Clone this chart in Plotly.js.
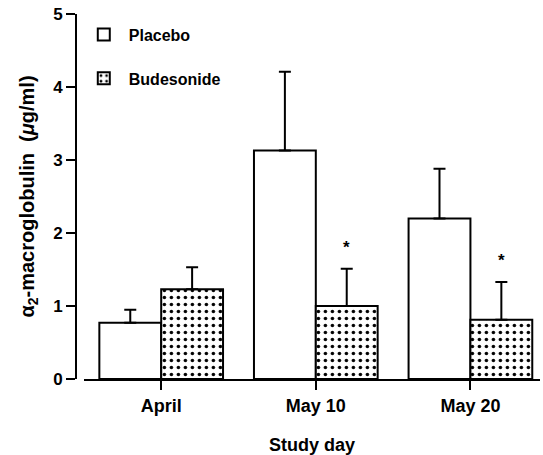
<!DOCTYPE html>
<html>
<head>
<meta charset="utf-8">
<script src="https://cdn.plot.ly/plotly-3.0.1.min.js"></script>
<style>html,body{margin:0;padding:0;background:#fff;}</style>
</head>
<body>
<div id="chart" style="width:543px;height:455px;"></div>
<script>
var categories = ["April", "May 10", "May 20"];
var placebo = [0.77, 3.13, 2.20];
var placeboErr = [0.18, 1.08, 0.68];
var budesonide = [1.23, 1.00, 0.81];
var budesonideErr = [0.30, 0.51, 0.52];
var significant = [false, true, true];
var yTicks = [0, 1, 2, 3, 4, 5];

var FONT = "Liberation Sans, Arial, Helvetica, sans-serif";
var zeros = categories.map(function(){return 0;});

var tracePlacebo = {
  type: "bar", name: "Placebo", x: categories, y: placebo,
  legendgroup: "p",
  marker: {color: "#ffffff", line: {color: "#000", width: 2}},
  error_y: {type: "data", symmetric: false, array: placeboErr, arrayminus: zeros,
            color: "#000", thickness: 2, width: 6}
};
var traceBud = {
  type: "bar", name: "Budesonide", x: categories, y: budesonide,
  legendgroup: "b",
  marker: {color: "#ffffff", line: {color: "#000", width: 2},
           pattern: {shape: ".", fgcolor: "#000", bgcolor: "#fff", size: 7, solidity: 0.2}},
  error_y: {type: "data", symmetric: false, array: budesonideErr, arrayminus: zeros,
            color: "#000", thickness: 2, width: 6}
};

var annotations = [];
categories.forEach(function(c, i){
  if (significant[i]) {
    annotations.push({
      x: c, y: budesonide[i] + budesonideErr[i], xref: "x", yref: "y",
      text: "*", showarrow: false, xshift: 31, yshift: 21,
      font: {family: FONT, size: 17, color: "#000", weight: "bold"}
    });
  }
});

var layout = {
  width: 543, height: 455,
  margin: {l: 76, r: 3, t: 14, b: 76},
  paper_bgcolor: "#fff", plot_bgcolor: "#fff",
  font: {family: FONT, color: "#000"},
  barmode: "group", bargap: 0.2, bargroupgap: 0,
  showlegend: true,
  legend: {x: 0.006, y: 0.99, xanchor: "left", yanchor: "top",
           font: {family: FONT, size: 16, weight: "bold", color: "#000"},
           itemwidth: 40,
           traceorder: "grouped", tracegroupgap: 20, bgcolor: "rgba(0,0,0,0)"},
  xaxis: {
    domain: [0.017, 1], range: [-0.5, 2.45],
    showline: true, linecolor: "#000", linewidth: 2,
    ticks: "outside", ticklen: 9, tickwidth: 2, tickcolor: "#000",
    showgrid: false, zeroline: false,
    tickfont: {family: FONT, size: 18, weight: "bold"},
    title: {text: "Study day", font: {family: FONT, size: 18, weight: "bold"}, standoff: 24}
  },
  yaxis: {
    anchor: "free", position: 0, range: [0, 5],
    tickvals: yTicks, ticktext: yTicks.map(String),
    showline: true, linecolor: "#000", linewidth: 2,
    ticks: "outside", ticklen: 9, tickwidth: 2, tickcolor: "#000",
    showgrid: false, zeroline: false,
    tickfont: {family: FONT, size: 17, weight: "bold"},
    title: {text: "α<sub>2</sub>-macroglobulin\u00a0\u00a0(<i>μ</i>g/ml)",
            font: {family: FONT, size: 20, weight: "bold"}, standoff: 12}
  },
  annotations: annotations
};

Plotly.newPlot("chart", [tracePlacebo, traceBud], layout, {displayModeBar: false, staticPlot: true});
</script>
</body>
</html>
